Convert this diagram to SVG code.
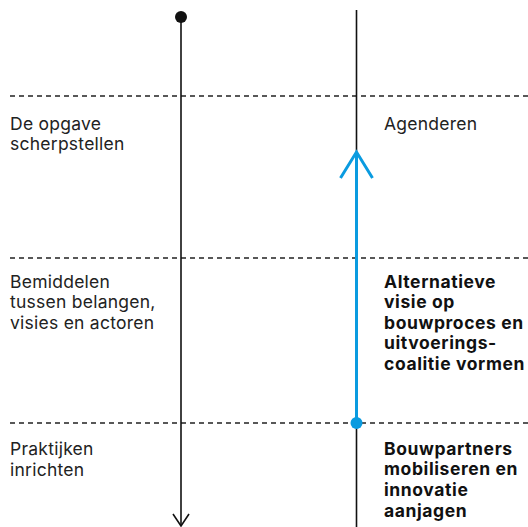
<svg xmlns="http://www.w3.org/2000/svg" width="528" height="527" viewBox="0 0 528 527">
<style>
.dash{stroke:#222;stroke-width:1.5;stroke-dasharray:5 4;fill:none}
.ln{stroke:#111;stroke-width:1.6;fill:none}
.bl{stroke:#0a9be0;stroke-width:3;fill:none}
text{font-family:Inter,"Liberation Sans",sans-serif;font-size:17.5px;letter-spacing:0.25px;fill:#222}
.b{font-weight:bold;fill:#111;letter-spacing:0.6px}
</style>
<g id="grid">
<line class="dash" x1="10" y1="96" x2="528" y2="96"/>
<line class="dash" x1="10" y1="258" x2="528" y2="258"/>
<line class="dash" x1="10" y1="423" x2="528" y2="423"/>
</g>
<g id="connectors">
<line class="ln" x1="181" y1="17" x2="181" y2="526"/>
<polyline class="ln" points="173,514 181,526 189,514"/>
<circle cx="181" cy="17" r="6" fill="#111"/>
<line class="ln" x1="356.5" y1="10" x2="356.5" y2="527"/>
<line class="bl" x1="356.5" y1="423" x2="356.5" y2="152"/>
<polyline class="bl" points="340.5,178 356.5,152 372.5,178"/>
<circle cx="356.5" cy="423" r="6" fill="#0a9be0"/>
</g>
<g id="label-opgave"><text x="10" y="130">De opgave</text><text x="10" y="150">scherpstellen</text></g>
<g id="label-agenderen"><text x="384" y="130">Agenderen</text></g>
<g id="label-bemiddelen"><text x="10" y="288">Bemiddelen</text><text x="10" y="308">tussen belangen,</text><text x="10" y="329">visies en actoren</text></g>
<g id="label-alternatieve"><text class="b" x="384" y="288">Alternatieve</text><text class="b" x="384" y="308">visie op</text><text class="b" x="384" y="329">bouwproces en</text><text class="b" x="384" y="349">uitvoerings-</text><text class="b" x="384" y="370">coalitie vormen</text></g>
<g id="label-praktijken"><text x="10" y="455">Praktijken</text><text x="10" y="476">inrichten</text></g>
<g id="label-bouwpartners"><text class="b" x="384" y="455">Bouwpartners</text><text class="b" x="384" y="475">mobiliseren en</text><text class="b" x="384" y="496">innovatie</text><text class="b" x="384" y="517">aanjagen</text></g>
</svg>
